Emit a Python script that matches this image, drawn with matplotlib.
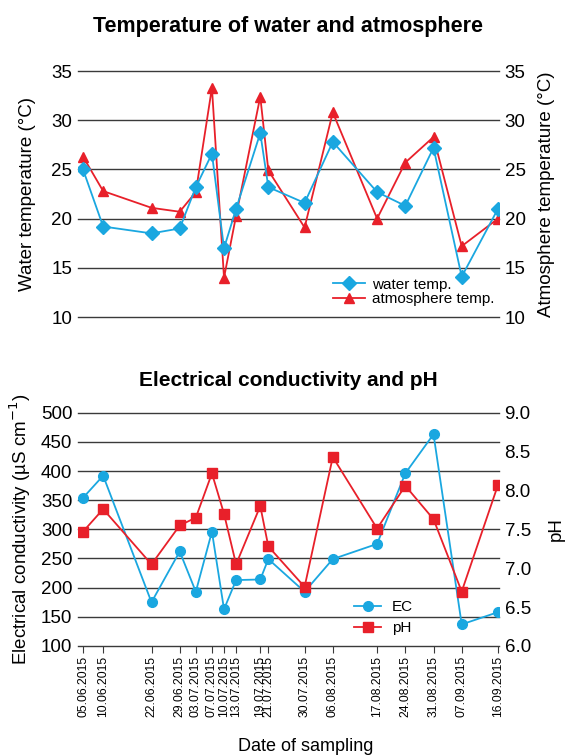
import matplotlib
matplotlib.use("Agg")
import matplotlib.pyplot as plt
import pandas as pd

plt.rcParams['font.family'] = ['Liberation Sans', 'DejaVu Sans']

# sampling dates
dates = ["05.06.2015", "10.06.2015", "22.06.2015", "29.06.2015", "03.07.2015",
         "07.07.2015", "10.07.2015", "13.07.2015", "19.07.2015", "21.07.2015",
         "30.07.2015", "06.08.2015", "17.08.2015", "24.08.2015", "31.08.2015",
         "07.09.2015", "16.09.2015"]

water_temp = [25.0, 19.2, 18.5, 19.0, 23.2, 26.6, 17.0, 21.0, 28.7, 23.2,
              21.6, 27.8, 22.7, 21.3, 27.2, 14.1, 21.0]
atmo_temp = [26.3, 22.8, 21.1, 20.7, 22.7, 33.3, 14.0, 20.3, 32.4, 24.9,
             19.1, 30.8, 20.0, 25.7, 28.3, 17.2, 20.0]

ec = [354, 392, 175, 262, 193, 296, 163, 213, 214, 249,
      193, 249, 275, 396, 463, 137, 158]
ph = [7.47, 7.76, 7.05, 7.55, 7.65, 8.22, 7.70, 7.05, 7.80, 7.28,
      6.76, 8.43, 7.51, 8.06, 7.63, 6.70, 8.07]

temp_ticks = [10, 15, 20, 25, 30, 35]
ec_ticks = [100, 150, 200, 250, 300, 350, 400, 450, 500]
ph_ticks = [6.0, 6.5, 7.0, 7.5, 8.0, 8.5, 9.0]

x = pd.to_datetime(dates, format="%d.%m.%Y")

blue = "#1aa7e0"
red = "#e8202a"
grid_c = "#3a3a3a"
fs = 13.5

fig = plt.figure(figsize=(5.7, 7.55), dpi=100)

xmin = x[0] - pd.Timedelta(hours=30)
xmax = x[-1] + pd.Timedelta(hours=6)


def style(ax, ticks):
    for s in ax.spines.values():
        s.set_visible(False)
    ax.set_yticks(ticks)
    ax.tick_params(axis='y', length=0, labelsize=fs, pad=4)
    ax.set_xlim(xmin, xmax)


# ---- top chart: temperature
ax1 = fig.add_axes([0.1368, 0.5801, 0.7386, 0.3258])
style(ax1, temp_ticks)
ax1.set_ylim(10, 35)
ax1.grid(axis='y', color=grid_c, linewidth=1.0)
for ln in ax1.get_ygridlines():
    ln.set_clip_on(False)
ax1.set_xticks([])
ax1.plot(x, water_temp, color=blue, marker="D", markersize=7, lw=1.3,
         label="water temp.", zorder=4)
ax1.plot(x, atmo_temp, color=red, marker="^", markersize=7.5, lw=1.3,
         label="atmosphere temp.", zorder=3)
ax1.set_ylabel("Water temperature (°C)", fontsize=fs, labelpad=11)
ax1.set_title("Temperature of water and atmosphere", fontsize=15.5,
              fontweight="bold", pad=28)
ax1.legend(loc="lower right", bbox_to_anchor=(1.015, 0.0), frameon=False,
           fontsize=11, handlelength=2.1, borderpad=0.2, labelspacing=0.05,
           handletextpad=0.5)

ax1r = ax1.twinx()
style(ax1r, temp_ticks)
ax1r.set_ylim(10, 35)
ax1r.set_xticks([])
ax1r.set_ylabel("Atmosphere temperature (°C)", fontsize=fs, labelpad=9)

# ---- bottom chart: EC and pH
ax2 = fig.add_axes([0.1368, 0.1444, 0.7386, 0.3090])
style(ax2, ec_ticks)
ax2.set_ylim(100, 500)
ax2.grid(axis='y', color=grid_c, linewidth=1.0)
for ln in ax2.get_ygridlines():
    ln.set_clip_on(False)
ax2.set_xticks(x)
ax2.set_xticklabels(dates, rotation=90, fontsize=8.7)
ax2.tick_params(axis='x', length=5, width=0.8, color=grid_c, pad=2)
ax2.plot(x, ec, color=blue, marker="o", markersize=7, lw=1.3,
         label="EC", zorder=3)
ax2.set_ylabel("Electrical conductivity (µS cm$^{-1}$)", fontsize=fs,
               labelpad=6)
ax2.set_xlabel("Date of sampling", fontsize=13, labelpad=14)
ax2.xaxis.set_label_coords(0.54, -0.395)
ax2.set_title("Electrical conductivity and pH", fontsize=15,
              fontweight="bold", pad=19)

ax2r = ax2.twinx()
style(ax2r, ph_ticks)
ax2r.set_ylim(6.0, 9.0)
ax2r.set_yticklabels(["%.1f" % v for v in ph_ticks])
ax2r.plot(x, ph, color=red, marker="s", markersize=7, lw=1.3,
          label="pH", zorder=4)
ax2r.set_ylabel("pH", fontsize=fs, labelpad=12)

h1, l1 = ax2.get_legend_handles_labels()
h2, l2 = ax2r.get_legend_handles_labels()
ax2r.legend(h1 + h2, l1 + l2, loc="lower left", bbox_to_anchor=(0.63, 0.0),
            frameon=False, fontsize=11, handlelength=1.8, borderpad=0.2,
            labelspacing=0.45, handletextpad=0.7)

fig.savefig("out.png", dpi=100)
